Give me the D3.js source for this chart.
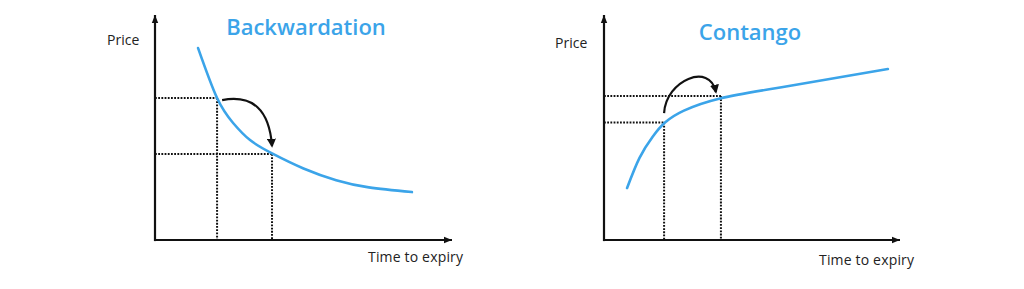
<!DOCTYPE html>
<html lang="en">
<head>
<meta charset="utf-8">
<title>Backwardation and Contango</title>
<script src="https://cdn.jsdelivr.net/npm/d3@7"></script>
<style>
  body { margin: 0; background: #fff; }
  text { font-family: "Open Sans", sans-serif; }
</style>
</head>
<body>
<script>
// data (time to expiry / price, 0-100 units)
var backTime  = [14.5, 20.9, 26.3, 32.0, 39.4, 50.0, 61.0, 72.0, 86.5];
var backPrice = [85.3, 63.1, 52.0, 44.4, 38.5, 31.8, 26.6, 23.4, 21.3];
var contTime  = [7.8, 12.0, 16.5, 20.6, 27.0, 39.2, 60.0, 95.9];
var contPrice = [23.1, 36.5, 46.0, 52.2, 57.5, 62.9, 67.9, 76.0];

// marked points (near / far contract)
var backMarkTime  = [20.9, 39.4];
var backMarkPrice = [63.1, 38.2];
var contMarkTime  = [20.3, 39.5];
var contMarkPrice = [52.2, 64.0];

// roll arrows: start, control(s), end
var backArrowTime  = [22.6, 38.0, 39.4];
var backArrowPrice = [62.2, 66.0, 41.8];
var contArrowTime  = [20.3, 20.9, 35.8, 37.8];
var contArrowPrice = [56.4, 71.1, 79.1, 65.8];

var titles = ["Backwardation", "Contango"];
var yLabel = "Price";
var xLabel = "Time to expiry";

var width = 1024, height = 289;
var blue = "#3ba4e9";

var svg = d3.select("body").append("svg").attr("width", width).attr("height", height);

var defs = svg.append("defs");
defs.append("marker")
  .attr("id", "axisHead")
  .attr("markerUnits", "userSpaceOnUse")
  .attr("viewBox", "0 0 10 10")
  .attr("refX", 10).attr("refY", 5)
  .attr("markerWidth", 8).attr("markerHeight", 8)
  .attr("orient", "auto")
  .append("path").attr("d", "M0,1 L10,5 L0,9 z").attr("fill", "#111");
defs.append("marker")
  .attr("id", "rollHead")
  .attr("markerUnits", "userSpaceOnUse")
  .attr("viewBox", "0 0 10 10")
  .attr("refX", 8).attr("refY", 5)
  .attr("markerWidth", 9).attr("markerHeight", 9)
  .attr("orient", "auto")
  .append("path").attr("d", "M0,0 L10,5 L0,10 z").attr("fill", "#111");

var panels = [
  { left: 155, right: 452, title: titles[0], titleX: 306, titleY: 35,
    priceX: 107, priceY: 45, timeX: 368, timeY: 262,
    t: backTime, p: backPrice, mt: backMarkTime, mp: backMarkPrice,
    at: backArrowTime, ap: backArrowPrice },
  { left: 604, right: 900, title: titles[1], titleX: 750, titleY: 40,
    priceX: 555, priceY: 48, timeX: 819, timeY: 265,
    t: contTime, p: contPrice, mt: contMarkTime, mp: contMarkPrice,
    at: contArrowTime, ap: contArrowPrice }
];

panels.forEach(function (pn) {
  var x = d3.scaleLinear().domain([0, 100]).range([pn.left, pn.right]);
  var y = d3.scaleLinear().domain([0, 100]).range([240, 15]);
  var g = svg.append("g");

  // dotted guides
  pn.mt.forEach(function (tv, i) {
    var pv = pn.mp[i];
    g.append("line")
      .attr("x1", x(0)).attr("x2", x(tv))
      .attr("y1", y(pv)).attr("y2", y(pv))
      .attr("stroke", "#111").attr("stroke-width", 2)
      .attr("stroke-dasharray", "1.8,1.4");
    g.append("line")
      .attr("x1", x(tv)).attr("x2", x(tv))
      .attr("y1", y(pv)).attr("y2", y(0))
      .attr("stroke", "#111").attr("stroke-width", 2)
      .attr("stroke-dasharray", "1.8,1.4");
  });

  // axes
  g.append("line")
    .attr("x1", x(0)).attr("x2", x(100))
    .attr("y1", y(0)).attr("y2", y(0))
    .attr("stroke", "#111").attr("stroke-width", 2.2)
    .attr("marker-end", "url(#axisHead)");
  g.append("line")
    .attr("x1", x(0)).attr("x2", x(0))
    .attr("y1", y(0) + 1.1).attr("y2", y(100))
    .attr("stroke", "#111").attr("stroke-width", 2.2)
    .attr("marker-end", "url(#axisHead)");

  // curve
  var pts = pn.t.map(function (tv, i) { return [tv, pn.p[i]]; });
  var line = d3.line()
    .x(function (d) { return x(d[0]); })
    .y(function (d) { return y(d[1]); })
    .curve(d3.curveNatural);
  g.append("path")
    .attr("d", line(pts))
    .attr("fill", "none")
    .attr("stroke", blue)
    .attr("stroke-width", 2.6)
    .attr("stroke-linecap", "round");

  // roll arrow
  var a = pn.at.map(function (tv, i) { return [x(tv), y(pn.ap[i])]; });
  var d = "M" + a[0] + (a.length === 3 ? " Q" + a[1] + " " + a[2] : " C" + a[1] + " " + a[2] + " " + a[3]);
  g.append("path")
    .attr("d", d)
    .attr("fill", "none")
    .attr("stroke", "#111")
    .attr("stroke-width", 2.2)
    .attr("marker-end", "url(#rollHead)");

  // texts
  g.append("text")
    .attr("x", pn.titleX).attr("y", pn.titleY)
    .attr("text-anchor", "middle")
    .style("font-size", "22px").style("font-weight", 600)
    .attr("fill", blue)
    .text(pn.title);
  g.append("text")
    .attr("x", pn.priceX).attr("y", pn.priceY)
    .style("font-size", "14px").attr("fill", "#222")
    .text(yLabel);
  g.append("text")
    .attr("x", pn.timeX).attr("y", pn.timeY)
    .style("font-size", "14px").attr("fill", "#222")
    .attr("textLength", 95)
    .text(xLabel);
});
</script>
</body>
</html>
